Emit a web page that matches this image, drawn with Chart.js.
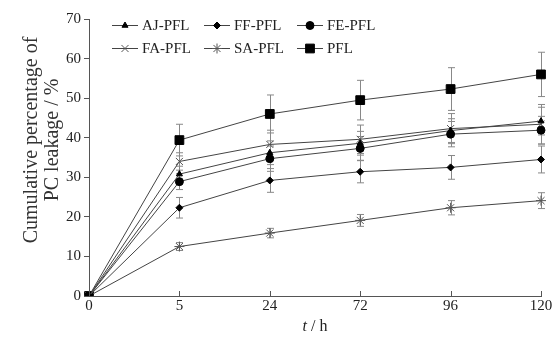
<!DOCTYPE html>
<html>
<head>
<meta charset="utf-8">
<script src="https://cdn.jsdelivr.net/npm/chart.js@4/dist/chart.umd.min.js"></script>
<style>
  html, body { margin: 0; padding: 0; background: #fff; }
  #box { width: 556px; height: 337px; }
</style>
</head>
<body>
<div id="box"><canvas id="grafico"></canvas></div>
<script>
// tempos (h) e valores
const tempos = ['0', '5', '24', '72', '96', '120'];

const ajPfl = [0, 30.8, 36.2, 38.6, 41.8, 44.2];
const ffPfl = [0, 22.3, 29.2, 31.4, 32.5, 34.5];
const fePfl = [0, 28.9, 34.7, 37.3, 40.9, 41.9];
const faPfl = [0, 34.0, 38.3, 39.6, 42.3, 43.4];
const saPfl = [0, 12.5, 15.9, 19.1, 22.3, 24.1];
const pfl = [0, 39.4, 46.0, 49.5, 52.3, 56.0];

// desvios (barras de erro)
const ajErr = [0, 2.0, 3.0, 3.0, 3.0, 3.5];
const ffErr = [0, 2.6, 3.0, 2.8, 3.0, 3.4];
const feErr = [0, 2.0, 3.2, 3.0, 3.2, 3.5];
const faErr = [0, 2.2, 3.6, 3.6, 3.8, 5.0];
const saErr = [0, 1.0, 1.2, 1.5, 1.8, 2.0];
const pflErr = [0, 4.0, 4.8, 5.0, 5.4, 5.6];

const yTicks = [0, 10, 20, 30, 40, 50, 60, 70];
const tituloY = ['Cumulative percentage of', 'PC leakage / %'];

const fonte = 'Liberation Serif, Times New Roman, serif';
const corLinha = '#444';

function serie(nome, dados, erros, estilo, raio) {
    return {
        label: nome,
        data: dados,
        erros: erros,
        borderColor: corLinha,
        borderWidth: 1,
        pointStyle: estilo,
        pointRadius: raio,
        pointBackgroundColor: '#000',
        pointBorderColor: (estilo === 'crossRot' || estilo === 'star') ? '#555' : '#000',
        pointBorderWidth: 1,
        tension: 0
    };
}

const series = [
    serie('AJ-PFL', ajPfl, ajErr, 'triangle', 3.5),
    serie('FF-PFL', ffPfl, ffErr, 'rectRot', 3.5),
    serie('FE-PFL', fePfl, feErr, 'circle', 4),
    serie('FA-PFL', faPfl, faErr, 'crossRot', 5),
    serie('SA-PFL', saPfl, saErr, 'star', 5),
    serie('PFL', pfl, pflErr, 'rect', 6.2)
];

// barras de erro, ticks do eixo x, legenda e títulos dos eixos
const extras = {
    id: 'extras',
    beforeDatasetsDraw(chart) {
        const ctx = chart.ctx;
        const x = chart.scales.x, y = chart.scales.y;
        ctx.save();
        ctx.strokeStyle = '#888';
        ctx.lineWidth = 1;
        chart.data.datasets.forEach(ds => {
            ds.data.forEach((v, i) => {
                const e = ds.erros[i];
                if (!e) return;
                const px = Math.round(x.getPixelForValue(i)) + 0.5;
                const top = y.getPixelForValue(v + e);
                const bot = y.getPixelForValue(v - e);
                ctx.beginPath();
                ctx.moveTo(px, top); ctx.lineTo(px, bot);
                ctx.moveTo(px - 3.5, top); ctx.lineTo(px + 3.5, top);
                ctx.moveTo(px - 3.5, bot); ctx.lineTo(px + 3.5, bot);
                ctx.stroke();
            });
        });
        ctx.restore();
    },
    afterDraw(chart) {
        const ctx = chart.ctx;
        const x = chart.scales.x;
        const area = chart.chartArea;
        ctx.save();
        // ticks para dentro no eixo x
        ctx.strokeStyle = '#555';
        ctx.lineWidth = 1;
        tempos.forEach((t, i) => {
            const px = Math.round(x.getPixelForValue(i)) + 0.5;
            ctx.beginPath();
            ctx.moveTo(px, area.bottom);
            ctx.lineTo(px, area.bottom - 5);
            ctx.stroke();
        });

        // legenda em 2 linhas x 3 colunas
        const colunas = [112, 204, 297];
        const linhas = [25, 48];
        ctx.font = '15px ' + fonte;
        ctx.textBaseline = 'middle';
        ctx.textAlign = 'left';
        chart.data.datasets.forEach((ds, i) => {
            const x0 = colunas[i % 3];
            const y0 = linhas[Math.floor(i / 3)];
            ctx.strokeStyle = corLinha;
            ctx.beginPath();
            ctx.moveTo(x0, y0 + 0.5);
            ctx.lineTo(x0 + 26, y0 + 0.5);
            ctx.stroke();
            ctx.fillStyle = '#000';
            ctx.strokeStyle = ds.pointBorderColor;
            ctx.lineWidth = 1;
            Chart.helpers.drawPoint(ctx, {
                pointStyle: ds.pointStyle,
                radius: ds.pointRadius,
                rotation: 0,
                borderWidth: 1
            }, x0 + 13, y0 + 0.5);
            ctx.fillStyle = '#222';
            ctx.fillText(ds.label, x0 + 30, y0 + 1);
        });

        // título do eixo y (duas linhas, girado)
        ctx.save();
        ctx.translate(0, 140);
        ctx.rotate(-Math.PI / 2);
        ctx.font = '20px ' + fonte;
        ctx.textAlign = 'center';
        ctx.textBaseline = 'middle';
        ctx.fillStyle = '#333';
        ctx.fillText(tituloY[0], 0, 32);
        ctx.fillText(tituloY[1], 0, 53);
        ctx.restore();

        // título do eixo x: t (itálico) / h
        ctx.textAlign = 'left';
        ctx.textBaseline = 'alphabetic';
        ctx.fillStyle = '#222';
        const cx = (area.left + area.right) / 2;
        ctx.font = 'italic 16px ' + fonte;
        const wt = ctx.measureText('t').width;
        ctx.font = '16px ' + fonte;
        const wr = ctx.measureText(' / h').width;
        const xs = cx - (wt + wr) / 2;
        ctx.font = 'italic 16px ' + fonte;
        ctx.fillText('t', xs, 331);
        ctx.font = '16px ' + fonte;
        ctx.fillText(' / h', xs + wt, 331);
        ctx.restore();
    }
};

const configuracao = {
    type: 'line',
    data: { labels: tempos, datasets: series },
    options: {
        responsive: true,
        maintainAspectRatio: false,
        animation: false,
        layout: { padding: { top: 19, right: 15, left: 0, bottom: 0 } },
        plugins: {
            legend: { display: false },
            tooltip: { enabled: false }
        },
        scales: {
            x: {
                type: 'category',
                offset: false,
                grid: { display: true, drawOnChartArea: false, drawTicks: false },
                border: { display: true, color: '#555', width: 1 },
                ticks: { color: '#222', font: { family: fonte, size: 15 }, padding: 1, maxRotation: 0 },
                afterFit(s) { s.height = 41; }
            },
            y: {
                min: 0,
                max: 70,
                afterBuildTicks(s) { s.ticks = yTicks.map(v => ({ value: v })); },
                grid: { display: true, drawOnChartArea: false, drawTicks: true, tickLength: 5, color: '#555' },
                border: { display: true, color: '#555', width: 1 },
                ticks: { color: '#222', font: { family: fonte, size: 15 }, padding: 3 },
                title: { display: false },
                afterFit(s) { s.width = 89; }
            }
        }
    },
    plugins: [extras]
};

var meuGrafico = new Chart(document.getElementById('grafico'), configuracao);
</script>
</body>
</html>
